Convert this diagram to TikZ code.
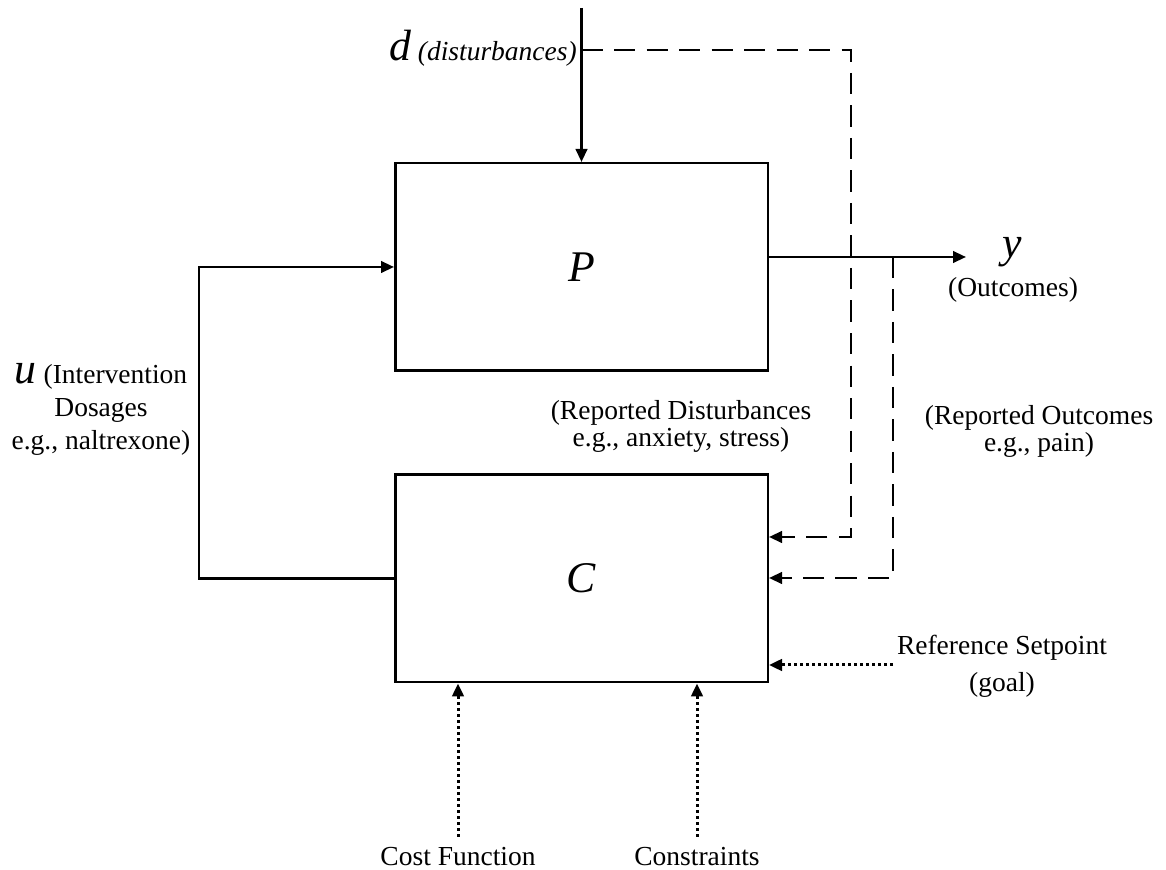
\documentclass[tikz,border=0pt]{standalone}
\usepackage{fontspec}
\setmainfont{Liberation Serif}
\usetikzlibrary{arrows.meta}

\newcommand{\bigit}[1]{{\fontsize{17.5}{20}\selectfont\itshape #1}}

\begin{document}
\begin{tikzpicture}[x=0.4pt,y=-0.4pt,line width=1pt,
	font=\fontsize{11}{10.8}\selectfont,
	>={Triangle[length=5.2pt,width=4.6pt]},
	fb/.style={->,dash pattern=on 8.5pt off 4.5pt},
	spec/.style={->,line width=1.2pt,dash pattern=on 1.2pt off 1.2pt},
	lab/.style={anchor=base,inner sep=0pt,align=center}]
	\useasboundingbox (0,0) rectangle (1166,870);

	\foreach \name/\y in {P/267,C/578.5}
		\node[draw,minimum width=149pt,minimum height=83pt](\name) at (581.5,\y){\bigit{\name}};

	\coordinate (dtop) at (581.5,8);
	\coordinate (dtap) at (581.5,50);
	\coordinate (dcorner) at (851,537);
	\coordinate (yend) at (966,257);
	\coordinate (ytap) at (893,257);
	\coordinate (ycorner) at (893,578);
	\coordinate (rsp) at (893,665);
	\coordinate (uleft) at (199,578.5);

	\draw[->] (dtop) -- (P.north);
	\draw[->] (yend -| P.east) -- (yend);
	\draw[->] (C.west) -- (uleft) |- (P.west);

	\draw[fb] (dtap) -| (dcorner) -- (dcorner -| C.east);
	\draw[fb] (ytap) -- (ycorner) -- (ycorner -| C.east);
	\draw[spec] (rsp) -- (rsp -| C.east);

	\foreach \x/\txt [count=\n] in {458/Cost Function,697/Constraints}
	{
		\coordinate (spec\n) at (\x,837);
		\draw[spec] (spec\n) -- (spec\n |- C.south);
		\node[lab] (speclab\n) at (\x,866) {\txt};
	}

	\node[lab,anchor=base east] (dlab) at (578,61) {\bigit{d} \textit{(disturbances)}};
	\node[lab] (ylab) at (1012,258) {\bigit{y}};
	\node[lab] (outlab) at (1013,297) {(Outcomes)};
	\node[lab] (rdlab) at (681,447) {(Reported Disturbances\\e.g., anxiety, stress)};
	\node[lab] (rolab) at (1039,452) {(Reported Outcomes\\e.g., pain)};
	\node[lab] (reflab) at (1002,692) {Reference Setpoint\\[4pt](goal)};
	\node[lab] (ulab) at (101,450) {\bigit{u} (Intervention\\[2.4pt]Dosages\\[2.4pt]e.g., naltrexone)};
\end{tikzpicture}
\end{document}
